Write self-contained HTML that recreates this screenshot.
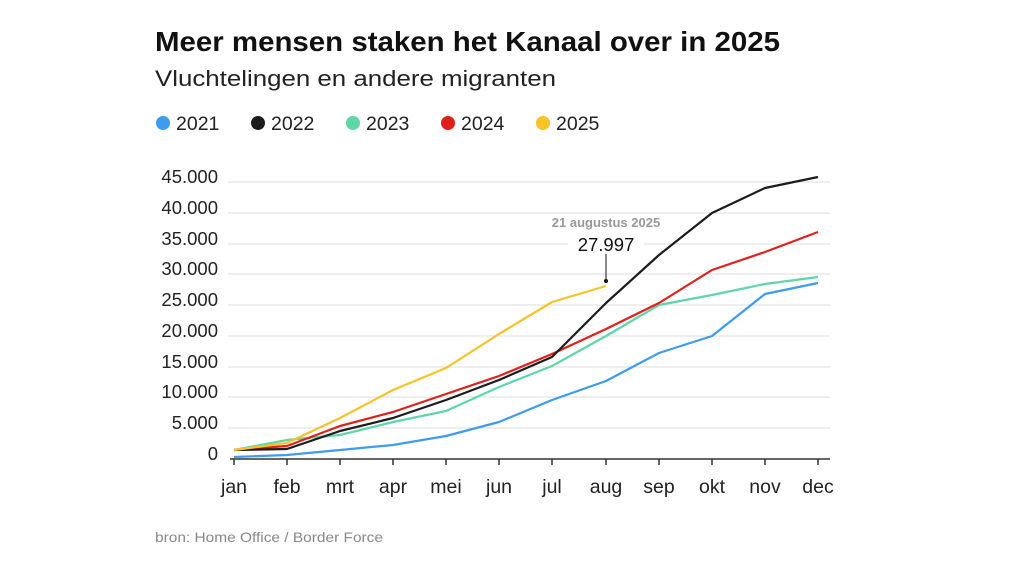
<!DOCTYPE html>
<html><head><meta charset="utf-8"><style>body{margin:0;background:#fff}svg{display:block}</style></head><body>
<svg width="1024" height="576" xmlns="http://www.w3.org/2000/svg" font-family="Liberation Sans, sans-serif">
<rect width="1024" height="576" fill="#fff"/>
<text x="155" y="51" font-size="28" font-weight="bold" fill="#111" textLength="625" lengthAdjust="spacingAndGlyphs">Meer mensen staken het Kanaal over in 2025</text>
<text x="155" y="86" font-size="22" fill="#222" textLength="401" lengthAdjust="spacingAndGlyphs">Vluchtelingen en andere migranten</text>
<g font-size="19.5" fill="#222">
<circle cx="163" cy="123" r="7" fill="#3d9cf0"/><text x="176" y="130">2021</text>
<circle cx="258" cy="123" r="7" fill="#1c1c1c"/><text x="271" y="130">2022</text>
<circle cx="353" cy="123" r="7" fill="#5fd6a8"/><text x="366" y="130">2023</text>
<circle cx="448" cy="123" r="7" fill="#e0201b"/><text x="461" y="130">2024</text>
<circle cx="543" cy="123" r="7" fill="#f7c22a"/><text x="556" y="130">2025</text>
</g>
<g stroke="#ddd" stroke-width="1">
<line x1="228" x2="830" y1="182" y2="182"/><line x1="228" x2="830" y1="213" y2="213"/><line x1="228" x2="830" y1="244" y2="244"/><line x1="228" x2="830" y1="274" y2="274"/><line x1="228" x2="830" y1="305" y2="305"/><line x1="228" x2="830" y1="336" y2="336"/><line x1="228" x2="830" y1="367" y2="367"/><line x1="228" x2="830" y1="397" y2="397"/><line x1="228" x2="830" y1="428" y2="428"/>
</g>
<g font-size="18.5" fill="#222" text-anchor="end">
<text x="218" y="183">45.000</text><text x="218" y="214">40.000</text><text x="218" y="245">35.000</text><text x="218" y="275">30.000</text><text x="218" y="306">25.000</text><text x="218" y="337">20.000</text><text x="218" y="368">15.000</text><text x="218" y="398">10.000</text><text x="218" y="429">5.000</text><text x="218" y="460">0</text>
</g>
<line x1="230" x2="830" y1="459" y2="459" stroke="#333" stroke-width="1.5"/>
<g stroke="#333" stroke-width="1.5">
<line x1="234" x2="234" y1="459" y2="465"/><line x1="287" x2="287" y1="459" y2="465"/><line x1="340" x2="340" y1="459" y2="465"/><line x1="393" x2="393" y1="459" y2="465"/><line x1="446" x2="446" y1="459" y2="465"/><line x1="499" x2="499" y1="459" y2="465"/><line x1="552" x2="552" y1="459" y2="465"/><line x1="606" x2="606" y1="459" y2="465"/><line x1="659" x2="659" y1="459" y2="465"/><line x1="712" x2="712" y1="459" y2="465"/><line x1="765" x2="765" y1="459" y2="465"/><line x1="818" x2="818" y1="459" y2="465"/>
</g>
<g font-size="19.5" fill="#222" text-anchor="middle">
<text x="234" y="493">jan</text><text x="287" y="493">feb</text><text x="340" y="493">mrt</text><text x="393" y="493">apr</text><text x="446" y="493">mei</text><text x="499" y="493">jun</text><text x="552" y="493">jul</text><text x="606" y="493">aug</text><text x="659" y="493">sep</text><text x="712" y="493">okt</text><text x="765" y="493">nov</text><text x="818" y="493">dec</text>
</g>
<g fill="none" stroke-width="2.2" stroke-linejoin="round">
<polyline stroke="#3d9cf0" points="234,457 287,455 340,450 393,445 446,436 499,422 552,400 606,381 659,353 712,336 765,294 818,283"/>
<polyline stroke="#5fd6a8" points="234,450 287,440 340,435 393,422 446,411 499,387 552,366 606,336 659,305 712,295 765,284 818,277"/>
<polyline stroke="#e0201b" points="234,450 287,446 340,426 393,412 446,394 499,376 552,354 606,329 659,303 712,270 765,252 818,232"/>
<polyline stroke="#1c1c1c" points="234,450 287,449 340,431 393,418 446,400 499,380 552,357 606,303 659,255 712,213 765,188 818,177"/>
<polyline stroke="#f7c22a" points="234,450 287,443 340,418 393,390 446,368 499,334 552,302 606,286"/>
</g>
<rect x="568" y="233" width="76" height="22" fill="#fff"/>
<text x="606" y="227" font-size="13" font-weight="bold" fill="#999" text-anchor="middle">21 augustus 2025</text>
<text x="606" y="251" font-size="18.5" fill="#111" text-anchor="middle">27.997</text>
<line x1="606" x2="606" y1="254" y2="281" stroke="#111" stroke-width="1"/>
<circle cx="606" cy="281" r="2" fill="#111"/>
<text x="155" y="542" font-size="14" fill="#888" textLength="228" lengthAdjust="spacingAndGlyphs">bron: Home Office / Border Force</text>
</svg>
</body></html>
